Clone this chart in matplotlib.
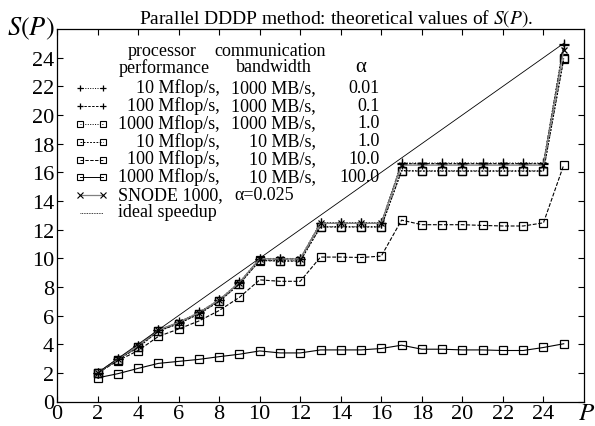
import matplotlib
matplotlib.use("Agg")
import matplotlib.pyplot as plt
from matplotlib.lines import Line2D

plt.rcParams["font.family"] = ["Liberation Serif", "DejaVu Serif"]
plt.rcParams["mathtext.fontset"] = "stix"

# number of processors
P = [2, 3, 4, 5, 6, 7, 8, 9, 10, 11, 12, 13, 14, 15, 16, 17, 18, 19, 20, 21, 22, 23, 24, 25]

s_a001 = [2.0, 2.98, 3.88, 5.0, 5.53, 6.22, 7.1, 8.32, 9.98, 9.98, 9.98, 12.48,
          12.48, 12.48, 12.48, 16.64, 16.64, 16.64, 16.64, 16.64, 16.64, 16.64, 16.64, 24.95]
s_a01 = [1.99, 2.96, 3.86, 4.98, 5.5, 6.18, 7.07, 8.28, 9.95, 9.95, 9.95, 12.43,
         12.43, 12.43, 12.43, 16.6, 16.6, 16.6, 16.6, 16.6, 16.6, 16.6, 16.6, 24.85]
s_a1_fast = [1.98, 2.93, 3.78, 4.92, 5.44, 6.12, 7.0, 8.2, 9.85, 9.82, 9.82, 12.2,
             12.2, 12.2, 12.2, 16.12, 16.1, 16.1, 16.1, 16.1, 16.1, 16.1, 16.1, 23.96]
s_a1_slow = [1.98, 2.92, 3.77, 4.91, 5.43, 6.11, 6.99, 8.19, 9.84, 9.8, 9.8, 12.18,
             12.18, 12.18, 12.18, 16.1, 16.08, 16.08, 16.08, 16.08, 16.08, 16.08, 16.08, 23.9]
s_a10 = [1.98, 2.85, 3.55, 4.54, 5.06, 5.62, 6.35, 7.27, 8.49, 8.39, 8.39, 10.08,
         10.08, 10.05, 10.15, 12.66, 12.34, 12.34, 12.34, 12.29, 12.25, 12.25, 12.47, 16.51]
s_a100 = [1.65, 1.94, 2.31, 2.66, 2.8, 2.94, 3.13, 3.3, 3.53, 3.39, 3.39, 3.6,
          3.6, 3.6, 3.7, 3.93, 3.65, 3.65, 3.6, 3.6, 3.56, 3.56, 3.77, 4.03]
snode = [2.0, 2.97, 3.87, 4.99, 5.52, 6.2, 7.08, 8.3, 9.96, 9.95, 9.95, 12.44,
         12.44, 12.44, 12.44, 16.5, 16.5, 16.5, 16.5, 16.5, 16.5, 16.5, 16.5, 24.55]
ideal = [2, 3, 4, 5, 6, 7, 8, 9, 10, 11, 12, 13, 14, 15, 16, 17, 18, 19, 20, 21,
         22, 23, 24, 25]

perf_labels = ["10 Mflop/s,", "100 Mflop/s,", "1000 Mflop/s,", "10 Mflop/s,",
               "100 Mflop/s,", "1000 Mflop/s,"]
bw_labels = ["1000 MB/s,", "1000 MB/s,", "1000 MB/s,", "10 MB/s,", "10 MB/s,", "10 MB/s,"]
alpha_labels = ["0.01", "0.1", "1.0", "1.0", "10.0", "100.0"]

W, H = 595, 427
fig = plt.figure(figsize=(W / 100, H / 100), dpi=100)
ax = fig.add_axes([57 / W, 1 - 402.5 / H, 527 / W, 372.5 / H])

# (marker, line style) per series
styles = [
    ("+", (0, (1, 1.5))),
    ("+", (0, (2.5, 1.5))),
    ("s", (0, (1, 1.5))),
    ("s", (0, (1.8, 1.5))),
    ("s", (0, (3.5, 1.5))),
    ("s", "-"),
]
series = [s_a001, s_a01, s_a1_fast, s_a1_slow, s_a10, s_a100]


def mk(marker, small=False):
    if marker == "+":
        return dict(marker="+", markersize=5 if small else 7, markeredgewidth=0.9)
    return dict(marker="s", markersize=3.8 if small else 5.5,
                markerfacecolor="none", markeredgewidth=0.8 if small else 0.9)


for ys, (m, ls) in zip(series, styles):
    ax.plot(P, ys, color="black", lw=0.8, ls=ls, **mk(m))
ax.plot(P, snode, color="#808080", lw=1.0, marker="x", markersize=5,
        markeredgecolor="black", markeredgewidth=0.9)
ax.plot(P, ideal, color="black", lw=0.6)

ax.set_xlim(0, 26)
ax.set_ylim(0, 26)
ax.set_xticks(range(0, 25, 2))
ax.set_yticks(range(0, 25, 2))
ax.tick_params(direction="in", length=4, width=0.8, top=True, right=True,
               labelsize=16, pad=2)
for sp in ax.spines.values():
    sp.set_linewidth(0.9)

ax.set_title("Parallel DDDP method: theoretical values of $S(P)$.", fontsize=14,
             x=0.53, pad=5)
fig.text(7 / W, 1 - 29 / H, "$S(P)$", fontsize=19, ha="left", va="center")
fig.text(587 / W, 1 - 414 / H, "$P$", fontsize=18, ha="center", va="center")


def fx(x):
    return x / W


def fy(y):
    return 1 - y / H


# key, drawn in gnuplot fashion
fs = 13
fig.text(fx(128), fy(52), "processor", fontsize=fs, va="center")
fig.text(fx(214), fy(52), "communication", fontsize=fs, va="center")
fig.text(fx(119), fy(68), "performance", fontsize=fs, va="center")
fig.text(fx(236), fy(68), "bandwidth", fontsize=fs, va="center")
fig.text(fx(361), fy(68), "α", fontsize=fs + 2, va="center", ha="center")

row0, step = 89.3, 17.8
for i, (m, ls) in enumerate(styles):
    y = row0 + i * step
    fig.add_artist(Line2D([fx(80), fx(103)], [fy(y), fy(y)], transform=fig.transFigure,
                          color="black", lw=0.7, ls=ls, **mk(m, small=True)))
    fig.text(fx(220), fy(y - 1), perf_labels[i], fontsize=fs, ha="right", va="center")
    fig.text(fx(316), fy(y - 1), bw_labels[i], fontsize=fs, ha="right", va="center")
    fig.text(fx(380), fy(y - 1), alpha_labels[i], fontsize=fs, ha="right", va="center")

y = row0 + 6 * step
fig.add_artist(Line2D([fx(80), fx(103)], [fy(y), fy(y)], transform=fig.transFigure,
                      color="#808080", lw=0.9, marker="x", markersize=4,
                      markeredgecolor="black", markeredgewidth=0.8))
fig.text(fx(118), fy(y - 1), "SNODE 1000,", fontsize=fs, va="center")
fig.text(fx(234), fy(y - 1), "α=0.025", fontsize=fs, va="center")

y = row0 + 7 * step
fig.add_artist(Line2D([fx(80), fx(103)], [fy(y), fy(y)], transform=fig.transFigure,
                      color="black", lw=0.6, ls=(0, (1, 1))))
fig.text(fx(118), fy(y - 1), "ideal speedup", fontsize=fs, va="center")

fig.savefig("out.png", dpi=100)
